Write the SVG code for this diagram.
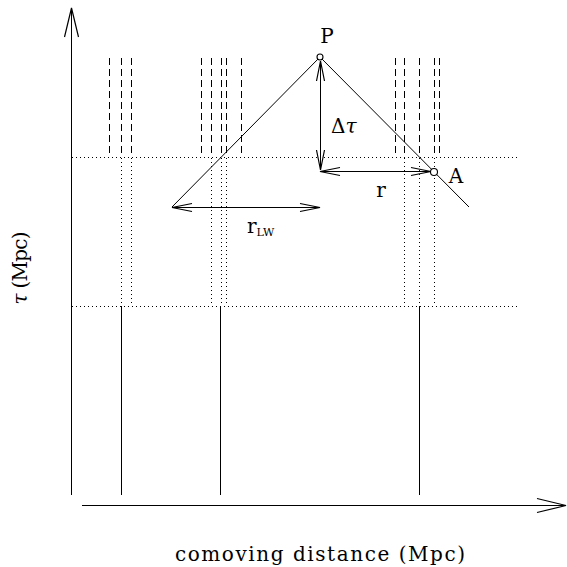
<svg xmlns="http://www.w3.org/2000/svg" width="567" height="567" viewBox="0 0 567 567">
<defs>
<style>
.ln{stroke:#000;stroke-width:1;fill:none}
.dash{stroke:#000;stroke-width:1;stroke-dasharray:7 4;fill:none}
.dot{stroke:#000;stroke-width:1;stroke-dasharray:1 3;fill:none}
.t{font-family:"DejaVu Serif","Liberation Serif",serif;font-size:20px;fill:#000}
.s{font-family:"DejaVu Serif","Liberation Serif",serif;font-size:11px;fill:#000}
</style>
<marker id="big" markerUnits="userSpaceOnUse" viewBox="-31 -9 33 18" markerWidth="33" markerHeight="18" refX="0" refY="0" orient="auto-start-reverse">
<path d="M-29,-7 L0,0 L-29,7" fill="none" stroke="#000" stroke-width="1.2"/>
</marker>
<marker id="sm" markerUnits="userSpaceOnUse" viewBox="-23 -6 25 12" markerWidth="25" markerHeight="12" refX="0" refY="0" orient="auto-start-reverse">
<path d="M-20,-4 L0,0 L-20,4" fill="none" stroke="#000" stroke-width="1.2"/>
</marker>
</defs>
<rect width="567" height="567" fill="#fff"/>
<g id="axes">
<line class="ln" x1="71.5" y1="495" x2="71.5" y2="8" marker-end="url(#big)"/>
<line class="ln" x1="82" y1="505.5" x2="566" y2="505.5" marker-end="url(#big)"/>
</g>
<g id="grid">
<line class="dot" x1="72" y1="157.5" x2="520" y2="157.5"/>
<line class="dot" x1="72" y1="306.5" x2="520" y2="306.5"/>
</g>
<g id="group1">
<line class="dash" x1="109.5" y1="58" x2="109.5" y2="157"/>
<line class="dash" x1="121.5" y1="58" x2="121.5" y2="157"/>
<line class="dash" x1="131.5" y1="58" x2="131.5" y2="157"/>
<line class="dot" x1="121.5" y1="158" x2="121.5" y2="306"/>
<line class="dot" x1="131.5" y1="158" x2="131.5" y2="306"/>
<line class="ln" x1="121.5" y1="306" x2="121.5" y2="495"/>
</g>
<g id="group2">
<line class="dash" x1="201.5" y1="58" x2="201.5" y2="157"/>
<line class="dash" x1="211.5" y1="58" x2="211.5" y2="157"/>
<line class="dash" x1="221.5" y1="58" x2="221.5" y2="157"/>
<line class="dash" x1="226.5" y1="58" x2="226.5" y2="157"/>
<line class="dash" x1="241.5" y1="58" x2="241.5" y2="157"/>
<line class="dot" x1="211.5" y1="158" x2="211.5" y2="306"/>
<line class="dot" x1="221.5" y1="158" x2="221.5" y2="306"/>
<line class="dot" x1="226.5" y1="158" x2="226.5" y2="306"/>
<line class="ln" x1="220.5" y1="306" x2="220.5" y2="495"/>
</g>
<g id="group3">
<line class="dash" x1="395.5" y1="58" x2="395.5" y2="157"/>
<line class="dash" x1="404.5" y1="58" x2="404.5" y2="157"/>
<line class="dash" x1="419.5" y1="58" x2="419.5" y2="157"/>
<line class="dash" x1="434.5" y1="58" x2="434.5" y2="157"/>
<line class="dash" x1="439.5" y1="58" x2="439.5" y2="157"/>
<line class="dot" x1="404.5" y1="158" x2="404.5" y2="306"/>
<line class="dot" x1="419.5" y1="158" x2="419.5" y2="306"/>
<line class="dot" x1="434.5" y1="158" x2="434.5" y2="306"/>
<line class="ln" x1="419.5" y1="306" x2="419.5" y2="495"/>
</g>
<g id="connectors">
<line class="ln" x1="320" y1="57" x2="172" y2="207"/>
<line class="ln" x1="320" y1="57" x2="469" y2="207"/>
<line class="ln" x1="320.5" y1="61" x2="320.5" y2="170" marker-start="url(#sm)" marker-end="url(#sm)"/>
<line class="ln" x1="320" y1="171.5" x2="431" y2="171.5" marker-start="url(#sm)" marker-end="url(#sm)"/>
<line class="ln" x1="172" y1="207.5" x2="320" y2="207.5" marker-start="url(#sm)" marker-end="url(#sm)"/>
</g>
<g id="P">
<circle cx="320" cy="57" r="3" fill="#fff" stroke="#000" stroke-width="1.1"/>
<text class="t" x="327" y="43" text-anchor="middle">P</text>
</g>
<g id="A">
<circle cx="434" cy="172" r="3.5" fill="#fff" stroke="#000" stroke-width="1.1"/>
<text class="t" x="456" y="183" text-anchor="middle">A</text>
</g>
<g id="labels">
<text class="t" x="331" y="133">Δ<tspan font-style="italic">τ</tspan></text>
<text class="t" x="381" y="197" text-anchor="middle">r</text>
<text class="t" x="247" y="233">r<tspan class="s" dy="3">LW</tspan></text>
<text class="t" x="320" y="561" text-anchor="middle" textLength="290" lengthAdjust="spacing">comoving distance (Mpc)</text>
<text class="t" transform="translate(27,268) rotate(-90)" text-anchor="middle" textLength="73" lengthAdjust="spacing"><tspan font-style="italic">τ</tspan> (Mpc)</text>
</g>
</svg>
